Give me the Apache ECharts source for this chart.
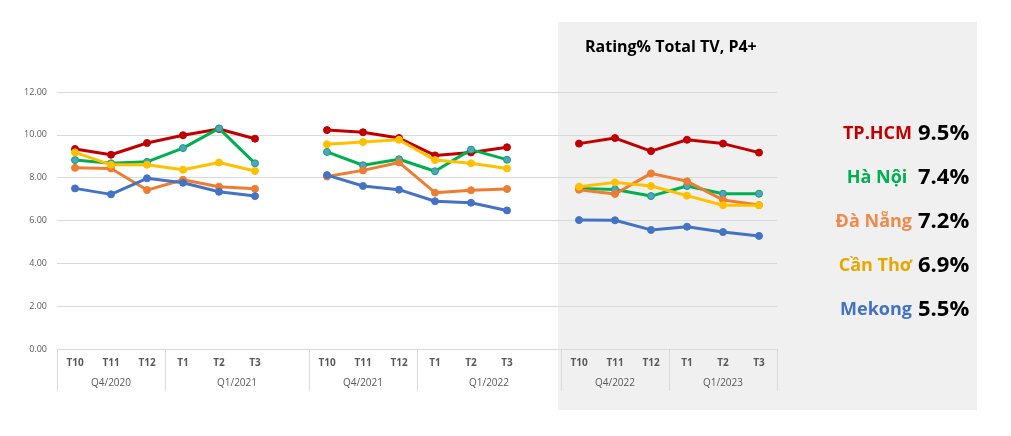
<!DOCTYPE html>
<html><head><meta charset="utf-8">
<script src="https://cdn.jsdelivr.net/npm/echarts@6/dist/echarts.min.js"></script>
<style>html,body{margin:0;padding:0;background:#fff}#c{width:1011px;height:436px}</style>
</head><body><div id="c"></div>
<script>
// ---- data ----
const months = ['T10','T11','T12','T1','T2','T3','', 'T10','T11','T12','T1','T2','T3','', 'T10','T11','T12','T1','T2','T3'];
const monthQuarter = ['Q4/2020','Q4/2020','Q4/2020','Q1/2021','Q1/2021','Q1/2021','Q1/2021',
  'Q4/2021','Q4/2021','Q4/2021','Q1/2022','Q1/2022','Q1/2022','Q1/2022',
  'Q4/2022','Q4/2022','Q4/2022','Q1/2023','Q1/2023','Q1/2023'];
const seriesNames = ['TP.HCM','Hà Nội ','Đà Nẵng','Cần Thơ','Mekong'];
const latestRating = ['9.5%','7.4%','7.2%','6.9%','5.5%'];
const tphcm  = [9.34,9.07,9.62,9.98,10.27,9.82,null, 10.22,10.12,9.85,9.04,9.18,9.42,null, 9.59,9.85,9.24,9.77,9.59,9.17];
const hanoi  = [8.82,8.67,8.74,9.38,10.30,8.67,null, 9.20,8.58,8.86,8.30,9.31,8.84,null, 7.50,7.45,7.14,7.61,7.25,7.25];
const danang = [8.46,8.43,7.42,7.90,7.58,7.48,null, 8.05,8.34,8.71,7.30,7.41,7.47,null, 7.44,7.24,8.20,7.83,6.96,6.72];
const cantho = [9.18,8.60,8.60,8.37,8.71,8.31,null, 9.56,9.66,9.77,8.82,8.67,8.43,null, 7.58,7.78,7.61,7.16,6.71,6.71];
const mekong = [7.50,7.22,7.97,7.76,7.34,7.14,null, 8.12,7.61,7.44,6.90,6.83,6.47,null, 6.02,6.01,5.56,5.71,5.46,5.28];
const titleText = 'Rating% Total TV, P4+';

// ---- styles ----
const lineColors = ['#C00000','#00B050','#ED7D31','#FFC000','#4472C4'];
const markerColors = ['#C00000','#5B9BD5','#ED7D31','#FFC000','#4472C4'];
const labelColors = ['#C00000','#00B050','#F08A4B','#E6A800','#4472C4'];
const allData = [tphcm, hanoi, danang, cantho, mekong];

// quarter spans derived from monthQuarter
const spans = [];
monthQuarter.forEach((q,i)=>{
  if(!spans.length || spans[spans.length-1].q!==q) spans.push({q, s:i, e:i+1});
  else spans[spans.length-1].e = i+1;
});
const sepValues = spans.map(s=>s.s).concat([months.length]);
const midValues = spans.map(s=>(s.s+s.e)/2);
const midLabel = {}; spans.forEach(s=>{ midLabel[((s.s+s.e)/2).toFixed(2)] = s.q; });

const chart = echarts.init(document.getElementById('c'), null, {renderer:'canvas'});
const FONT = 'Open Sans';
const series = seriesNames.map((n,k)=>({
  name:n, type:'line', data:allData[k], xAxisIndex:0, yAxisIndex:0,
  symbol:'circle', symbolSize:7, connectNulls:false,
  lineStyle:{color:lineColors[k], width:3},
  itemStyle:{color:markerColors[k], borderColor:lineColors[k], borderWidth:1},
  emphasis:{disabled:true}, animation:false, z:2+k
}));

const legendGraphics = [];
seriesNames.forEach((n,k)=>{
  legendGraphics.push({type:'text', x:912, y:134+k*44, z:10,
    style:{text:n, fill:labelColors[k], font:'bold 18px "Open Sans"', textAlign:'right', textVerticalAlign:'middle'}});
  legendGraphics.push({type:'text', x:918, y:134+k*44, z:10,
    style:{text:latestRating[k], fill:'#000', font:'bold 22px "Open Sans"', textAlign:'left', textVerticalAlign:'middle'}});
});

chart.setOption({
  animation:false,
  backgroundColor:'#ffffff',
  grid:{left:57, right:234, top:92, bottom:87, containLabel:false},
  xAxis:[{
    type:'category', data:months, boundaryGap:true,
    axisLine:{show:false}, axisTick:{show:false}, splitLine:{show:false},
    axisLabel:{interval:0, margin:9, color:'#595959', fontFamily:FONT, fontSize:10, fontWeight:'bold'}
  },{
    type:'value', min:0, max:months.length, position:'bottom',
    axisLine:{show:true, lineStyle:{color:'#d9d9d9', width:1}},
    splitLine:{show:false},
    axisTick:{show:true, customValues:sepValues, length:42, inside:false, lineStyle:{color:'#d9d9d9', width:1}},
    axisLabel:{customValues:midValues, margin:29, color:'#595959', fontFamily:FONT, fontSize:10,
      formatter:v=>midLabel[Number(v).toFixed(2)]||''}
  }],
  yAxis:{
    type:'value', min:0, max:12, interval:2,
    axisLine:{show:false}, axisTick:{show:false},
    splitLine:{lineStyle:{color:'#d9d9d9', width:1}},
    axisLabel:{margin:10, color:'#595959', fontFamily:FONT, fontSize:9, formatter:v=>v.toFixed(2)}
  },
  graphic:[
    {type:'rect', shape:{x:558, y:22, width:419, height:388}, style:{fill:'#f0f0f0'}, z:-10, silent:true},
    {type:'text', x:585, y:47, z:10, style:{text:titleText, fill:'#000', font:'bold 16px "Open Sans"', textAlign:'left', textVerticalAlign:'middle'}}
  ].concat(legendGraphics),
  series:series
});
</script></body></html>
